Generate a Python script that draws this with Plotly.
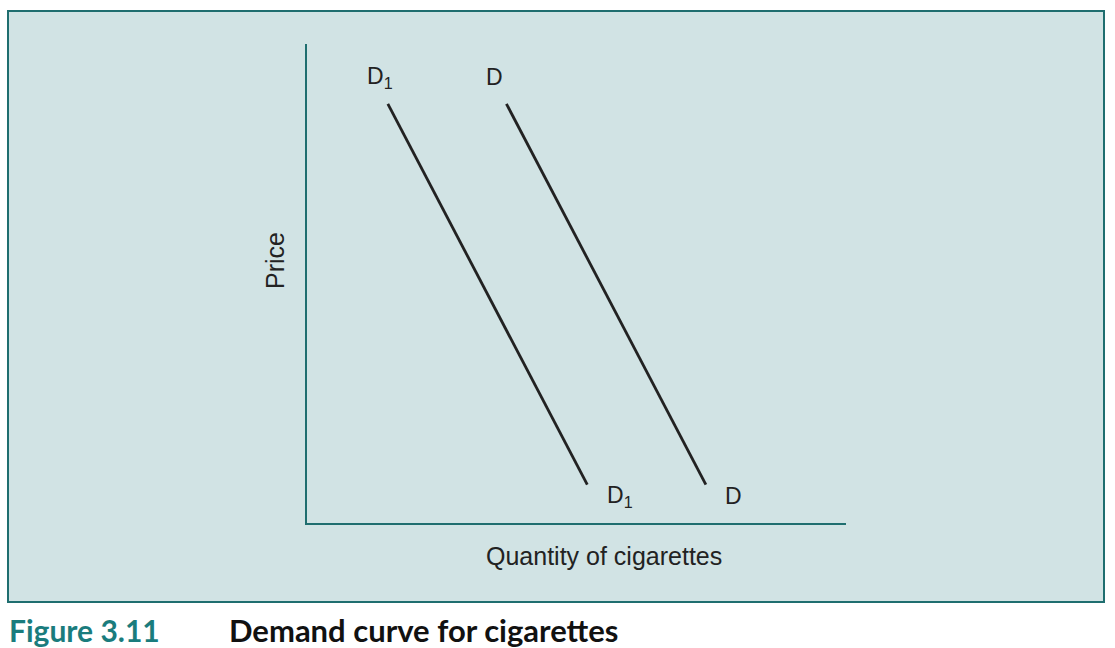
import plotly.graph_objects as go

# Data (arbitrary units: quantity vs price)
d1_quantity = [1.5, 5.2]
d1_price = [8.75, 0.8]
d_quantity = [3.7, 7.4]
d_price = [8.75, 0.8]

labels_text = ["D<sub>1</sub>", "D", "D<sub>1</sub>", "D"]
labels_x = [1.35, 3.47, 5.8, 7.92]
labels_y = [9.31, 9.31, 0.56, 0.56]

W, H = 1115, 648
BG = "#d1e3e4"
TEAL = "#1f6e6f"
INK = "#222222"

fig = go.Figure()
for xs, ys in [(d1_quantity, d1_price), (d_quantity, d_price)]:
    fig.add_trace(go.Scatter(x=xs, y=ys, mode="lines",
                             line=dict(color=INK, width=2.8),
                             hoverinfo="skip", showlegend=False))

for t, x, y in zip(labels_text, labels_x, labels_y):
    fig.add_annotation(x=x, y=y, xref="x", yref="y", text=t, showarrow=False,
                       font=dict(family="Liberation Sans, Arial", size=23, color=INK),
                       xanchor="center", yanchor="middle")

# outer box
fig.add_shape(type="rect", xref="paper", yref="paper",
              x0=8/W, x1=1104/W, y0=1-602/H, y1=1-11/H,
              fillcolor=BG, line=dict(color=TEAL, width=2), layer="below")

# axis titles
fig.add_annotation(x=(604)/W, y=1-556/H, xref="paper", yref="paper",
                   text="Quantity of cigarettes", showarrow=False,
                   font=dict(family="Liberation Sans, Arial", size=25, color=INK),
                   xanchor="center", yanchor="middle")
fig.add_annotation(x=275/W, y=1-261/H, xref="paper", yref="paper",
                   text="Price", showarrow=False, textangle=-90,
                   font=dict(family="Liberation Sans, Arial", size=25, color=INK),
                   xanchor="center", yanchor="middle")

# caption
fig.add_annotation(x=7/W, y=1-630/H, xref="paper", yref="paper",
                   text="<b>Figure 3.11</b>", showarrow=False,
                   font=dict(family="Lato", size=30, color="#1a7c7d"),
                   xanchor="left", yanchor="middle")
fig.add_annotation(x=227/W, y=1-630/H, xref="paper", yref="paper",
                   text="<b>Demand curve for cigarettes</b>", showarrow=False,
                   font=dict(family="Lato", size=31, color="#111111"),
                   xanchor="left", yanchor="middle")

fig.update_layout(
    width=W, height=H, autosize=False,
    margin=dict(l=0, r=0, t=0, b=0),
    paper_bgcolor="white", plot_bgcolor="rgba(0,0,0,0)",
    xaxis=dict(domain=[307/W, 846/W], range=[0, 10], showline=True,
               linecolor=TEAL, linewidth=2, showgrid=False, zeroline=False,
               showticklabels=False, ticks="", fixedrange=True),
    yaxis=dict(domain=[1-523/H, 1-44/H], range=[0, 10], showline=True,
               linecolor=TEAL, linewidth=2, showgrid=False, zeroline=False,
               showticklabels=False, ticks="", fixedrange=True),
)

fig.write_html("out.html", config={"displayModeBar": False},
               post_script="document.body.style.margin='0';document.body.style.overflow='hidden';")
